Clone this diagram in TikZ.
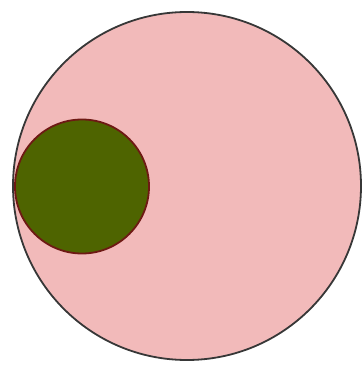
\documentclass[tikz,border=0pt]{standalone}
\definecolor{pinkfill}{RGB}{242,186,186}
\definecolor{greenfill}{RGB}{78,100,0}
\definecolor{redline}{RGB}{110,25,20}
\definecolor{grayline}{RGB}{55,55,55}
\tikzset{
  bigcirc/.style={fill=pinkfill, draw=grayline, line width=1.8pt},
  smallcirc/.style={fill=greenfill, draw=redline, line width=1.8pt}
}
\begin{document}
\begin{tikzpicture}[x=1pt,y=-1pt]
\useasboundingbox (0,0) rectangle (362,366);
\node[bigcirc, circle, minimum size=348pt, inner sep=0pt, outer sep=0pt] (big) at (187,186) {};
\node[smallcirc, circle, minimum size=134pt, inner sep=0pt, outer sep=0pt] (small) at (82,186.5) {};
\end{tikzpicture}
\end{document}
